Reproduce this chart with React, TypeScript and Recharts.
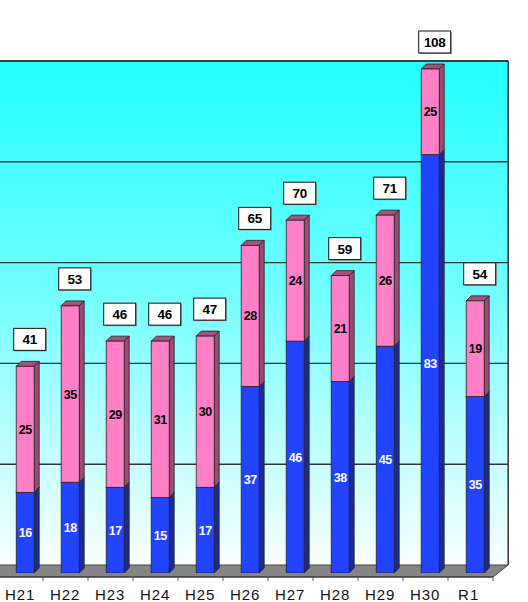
import React from "react";
import { BarChart, Bar, XAxis, YAxis, ReferenceArea, ReferenceLine, LabelList } from "recharts";

// ---- data ----
const categories = ["H21", "H22", "H23", "H24", "H25", "H26", "H27", "H28", "H29", "H30", "R1"];
const blueValues = [16, 18, 17, 15, 17, 37, 46, 38, 45, 83, 35];
const pinkValues = [25, 35, 29, 31, 30, 28, 24, 21, 26, 25, 19];
const gridValues = [20, 40, 60, 80, 100];
const WALL_MAX = 100;
const Y_MAX = 102;

const data = categories.map((cat, i) => ({ cat, blue: blueValues[i], pink: pinkValues[i] }));

// ---- style constants ----
const W = 528;
const H = 602;
const BACK_DX = 10;
const BACK_DY = -8;
const FRONT_DX = -5.2;
const FRONT_DY = 4;
const DEPTH = 5;
const FONT = "'Liberation Sans', Arial, sans-serif";

const COLORS = {
  blue: { front: "#2244FF", side: "#1B2A98", top: "#3355FF" },
  pink: { front: "#FF80C6", side: "#9C4C74", top: "#A8507E" },
};

// clamp the drawn segment to the wall top (value WALL_MAX), using the bar's own geometry
function clampSeg(y: number, height: number, low: number, high: number) {
  const base = y + height;
  const shownHigh = Math.min(high, Y_MAX);
  const span = shownHigh - low;
  if (span <= 0) return { y, height };
  const ppu = height / span;
  const top = base - (Math.min(high, WALL_MAX) - low) * ppu;
  return { y: top, height: base - top };
}

function Wall(props: any) {
  const { x, y, width, height } = props;
  const x1 = x + width;
  const yT = y;
  const yB = y + height;
  const left = -40;
  const n = categories.length;
  const ticks = [];
  for (let k = 0; k <= n; k++) {
    const xk = x + FRONT_DX + (k * width) / n;
    ticks.push(
      <line key={k} x1={xk} y1={yB + FRONT_DY} x2={xk} y2={yB + FRONT_DY + 4} stroke="#555" strokeWidth={1} />
    );
  }
  return (
    <g>
      <defs>
        <linearGradient id="wallGrad" x1="0" y1="0" x2="0" y2="1">
          <stop offset="0%" stopColor="#22FFFF" />
          <stop offset="45%" stopColor="#70FFFF" />
          <stop offset="100%" stopColor="#FAFFFF" />
        </linearGradient>
      </defs>
      <rect
        x={left}
        y={yT + BACK_DY}
        width={x1 + BACK_DX - left}
        height={yB - yT}
        fill="url(#wallGrad)"
      />
      <line x1={left} y1={yT + BACK_DY} x2={x1 + BACK_DX} y2={yT + BACK_DY} stroke="#333" strokeWidth={1.5} />
      <line x1={x1 + BACK_DX} y1={yT + BACK_DY} x2={x1 + BACK_DX} y2={yB + BACK_DY} stroke="#333" strokeWidth={1.5} />
      <polygon
        points={`${left},${yB + BACK_DY} ${x1 + BACK_DX},${yB + BACK_DY} ${x1 + FRONT_DX},${yB + FRONT_DY} ${left},${yB + FRONT_DY}`}
        fill="#858585"
        stroke="#444"
        strokeWidth={1}
      />
      <line x1={left} y1={yB + FRONT_DY} x2={x1 + FRONT_DX} y2={yB + FRONT_DY} stroke="#333" strokeWidth={1.2} />
      {ticks}
    </g>
  );
}

function GridLine(props: any) {
  const { y1, x2 } = props;
  if (y1 == null || x2 == null) return null;
  return <line x1={-40} y1={y1 + BACK_DY} x2={x2 + BACK_DX} y2={y1 + BACK_DY} stroke="#333" strokeWidth={1.4} />;
}

function makeShape(kind: "blue" | "pink") {
  return function Shape(props: any) {
    const { x, width, payload } = props;
    if (props.height == null || isNaN(props.height) || props.height <= 0) return null;
    const low = kind === "blue" ? 0 : payload.blue;
    const high = kind === "blue" ? payload.blue : payload.blue + payload.pink;
    const { y, height } = clampSeg(props.y, props.height, low, high);
    const base = y + height;
    const c = COLORS[kind];
    const d = DEPTH;
    const cx = x + width / 2;
    const cy = y + height / 2;
    const val = kind === "blue" ? payload.blue : payload.pink;
    const stroke = "#222";
    return (
      <g>
        <polygon
          points={`${x},${y} ${x + d},${y - d} ${x + width + d},${y - d} ${x + width},${y}`}
          fill={c.top}
          stroke={stroke}
          strokeWidth={0.8}
        />
        <polygon
          points={`${x + width},${y} ${x + width + d},${y - d} ${x + width + d},${base - d} ${x + width},${base}`}
          fill={c.side}
          stroke={stroke}
          strokeWidth={0.8}
        />
        <rect x={x} y={y} width={width} height={height} fill={c.front} stroke={stroke} strokeWidth={0.8} />
        <text
          x={cx}
          y={cy}
          dy="0.36em"
          textAnchor="middle"
          fontFamily={FONT}
          fontWeight="bold"
          fontSize={12.5}
          letterSpacing={-0.4}
          fill={kind === "blue" ? "#FFFFFF" : "#000000"}
        >
          {val}
        </text>
      </g>
    );
  };
}

const BlueShape = makeShape("blue");
const PinkShape = makeShape("pink");

function TotalLabel(props: any) {
  const vb = props.viewBox || {};
  const x = props.x ?? vb.x;
  const y0 = props.y ?? vb.y;
  const width = props.width ?? vb.width;
  const h0 = props.height ?? vb.height;
  const i = props.index;
  if (x == null || y0 == null || i == null) return null;
  const blue = blueValues[i];
  const total = blue + pinkValues[i];
  const { y } = clampSeg(y0, h0, blue, total);
  const cx = x + width / 2 + 4.5;
  const cy = y - 27;
  return (
    <g>
      <rect x={cx - 16 + 1} y={cy - 11 + 1} width={32} height={22} fill="#888" />
      <rect x={cx - 16} y={cy - 11} width={32} height={22} fill="#FFFFFF" stroke="#111" strokeWidth={1} />
      <text
        x={cx}
        y={cy}
        dy="0.36em"
        textAnchor="middle"
        fontFamily={FONT}
        fontWeight="bold"
        fontSize={13.5}
        letterSpacing={-0.3}
        fill="#000"
      >
        {total}
      </text>
    </g>
  );
}

function CatTick(props: any) {
  const { x, y, payload } = props;
  const off = payload.value === "R1" ? -7 : -5.5;
  return (
    <text
      x={x + off}
      y={y + 27}
      textAnchor="middle"
      fontFamily={FONT}
      fontSize={15}
      letterSpacing={1}
      fill="#111"
    >
      {payload.value}
    </text>
  );
}

export default function App() {
  return (
    <div style={{ position: "absolute", left: 0, top: 0, width: W, height: H, background: "#fff" }}>
      <BarChart
        width={W}
        height={H}
        data={data}
        margin={{ top: 58.92, right: 29.8, bottom: 0, left: 3.2 }}
        barCategoryGap={0}
      >
        <XAxis
          dataKey="cat"
          axisLine={false}
          tickLine={false}
          tickSize={0}
          tickMargin={0}
          height={29}
          interval={0}
          tick={<CatTick />}
        />
        <YAxis hide domain={[0, Y_MAX]} allowDataOverflow type="number" />
        <ReferenceArea y1={0} y2={WALL_MAX} shape={(p: any) => <Wall {...p} />} zIndex={-60} />
        {gridValues.map((v) => (
          <ReferenceLine key={v} y={v} shape={(p: any) => <GridLine {...p} />} zIndex={-55} />
        ))}
        <Bar dataKey="blue" stackId="s" barSize={18} shape={(p: any) => <BlueShape {...p} />} isAnimationActive={false} />
        <Bar dataKey="pink" stackId="s" barSize={18} shape={(p: any) => <PinkShape {...p} />} isAnimationActive={false}>
          <LabelList dataKey="pink" content={(p: any) => <TotalLabel {...p} />} />
        </Bar>
      </BarChart>
    </div>
  );
}
